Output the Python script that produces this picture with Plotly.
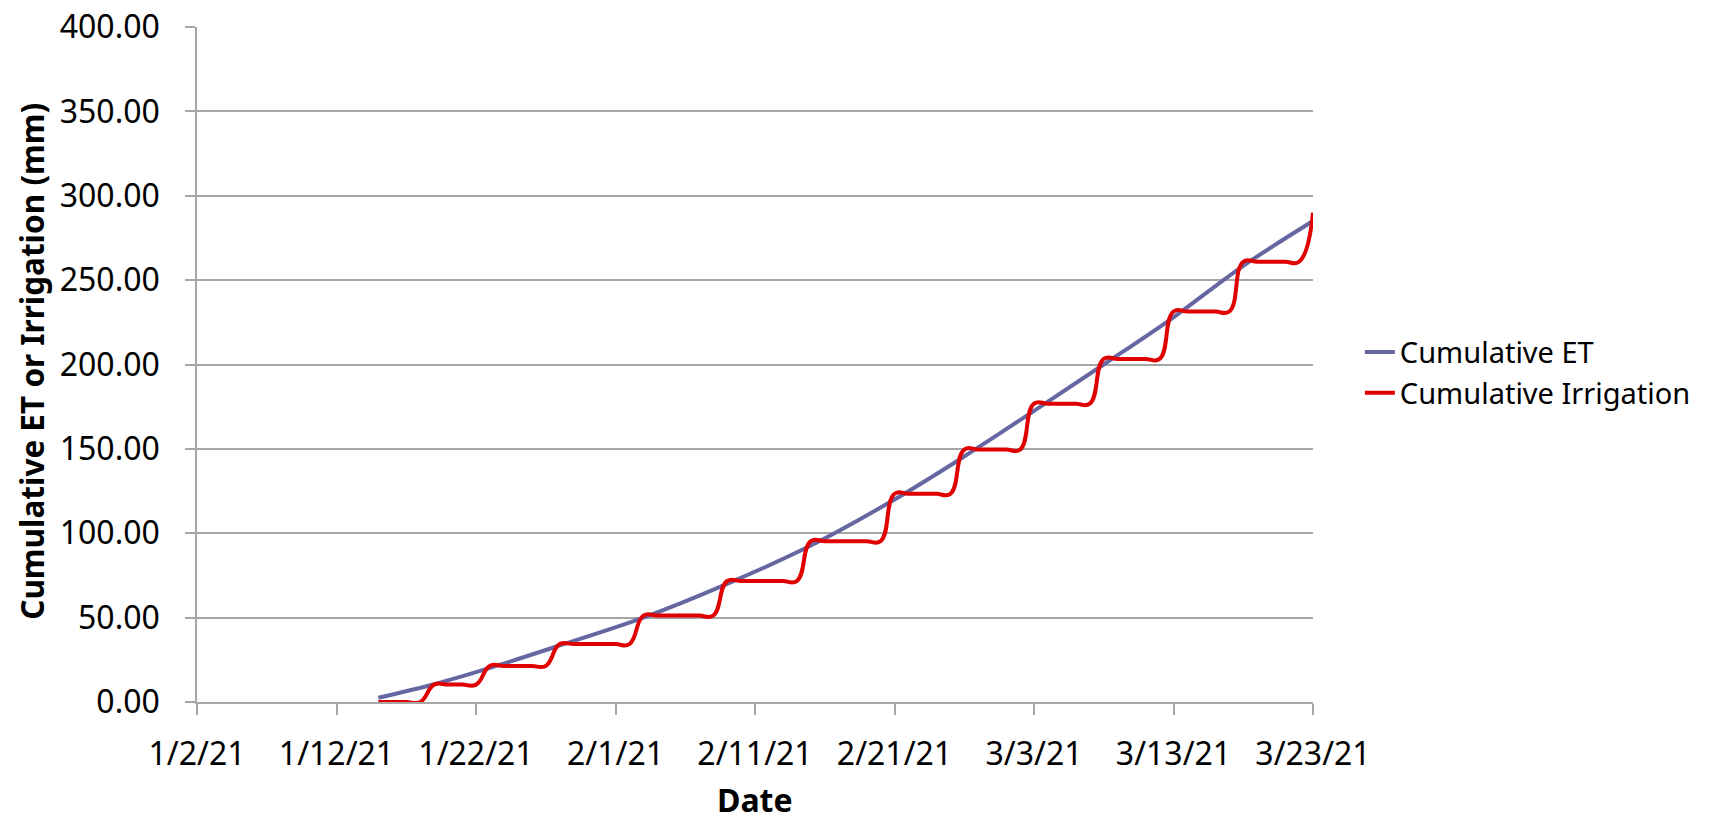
import plotly.graph_objects as go
import pandas as pd

# ---- data ----
et_dates = ["2021-01-15", "2021-01-19", "2021-01-23", "2021-01-28", "2021-02-03",
            "2021-02-09", "2021-02-15", "2021-02-21", "2021-02-26", "2021-03-03",
            "2021-03-08", "2021-03-13", "2021-03-18", "2021-03-23"]
et_mm = [2.5, 10.5, 20.2, 33.5, 50.0, 70.0, 92.7, 120.0, 145.5, 172.5,
         200.0, 228.0, 258.5, 285.0]

irr_dates = pd.date_range("2021-01-15", "2021-03-23", freq="D")
irrigation_mm = [
    0.0, 0.0, 0.0, 0.0,
    10.3, 10.3, 10.3, 10.3,
    21.4, 21.4, 21.4, 21.4, 21.4,
    34.3, 34.3, 34.3, 34.3, 34.3, 34.3,
    51.2, 51.2, 51.2, 51.2, 51.2, 51.2,
    71.7, 71.7, 71.7, 71.7, 71.7, 71.7,
    95.3, 95.3, 95.3, 95.3, 95.3, 95.3,
    123.4, 123.4, 123.4, 123.4, 123.4,
    149.6, 149.6, 149.6, 149.6, 149.6,
    176.8, 176.8, 176.8, 176.8, 176.8,
    203.3, 203.3, 203.3, 203.3, 203.3,
    231.4, 231.4, 231.4, 231.4, 231.4,
    260.9, 260.9, 260.9, 260.9, 260.9,
    290.0,
]

FONT = "Noto Sans"
GRID = "#A6A6A6"

fig = go.Figure()
fig.add_trace(go.Scatter(
    x=et_dates, y=et_mm, mode="lines", name="Cumulative ET",
    line=dict(color="#6666A3", width=4, shape="spline", smoothing=1),
))
fig.add_trace(go.Scatter(
    x=irr_dates, y=irrigation_mm, mode="lines", name="Cumulative Irrigation",
    line=dict(color="#E00000", width=4, shape="spline", smoothing=1.3),
))

# page body adds an 8px margin, so the figure is 16px smaller and shifted
fig.update_layout(
    width=1693, height=806,
    margin=dict(l=189, r=388, t=19, b=112, autoexpand=False),
    paper_bgcolor="white", plot_bgcolor="white",
    font=dict(family=FONT, size=32, color="black"),
    showlegend=True,
    legend=dict(x=1.042, xanchor="left", y=0.488, yanchor="middle",
                font=dict(family=FONT, size=29, color="black"),
                bgcolor="rgba(0,0,0,0)", tracegroupgap=0),
    xaxis=dict(
        type="date",
        range=["2021-01-02", "2021-03-23"],
        tick0="2021-01-02", dtick=10 * 86400000,
        tickformat="%-m/%-d/%y",
        showgrid=False, zeroline=False,
        showline=True, linecolor=GRID, linewidth=1.5,
        ticks="outside", ticklen=11, tickcolor=GRID, tickwidth=1.5,
        ticklabelstandoff=12, ticklabeloverflow="allow",
        tickfont=dict(family=FONT, size=32),
    ),
    yaxis=dict(
        range=[0, 400.01], dtick=50, tick0=0, tickformat=".2f",
        showgrid=True, gridcolor=GRID, gridwidth=1.5,
        zeroline=False,
        showline=True, linecolor=GRID, linewidth=1.5,
        ticks="outside", ticklen=10, tickcolor=GRID, tickwidth=1.5,
        ticklabelstandoff=19, ticklabeloverflow="allow",
        tickfont=dict(family=FONT, size=32),
    ),
    annotations=[
        dict(text="<b>Cumulative ET or Irrigation (mm)</b>", textangle=-90,
             xref="paper", yref="paper", x=-0.149, y=0.505,
             xanchor="center", yanchor="middle", showarrow=False,
             font=dict(family=FONT, size=31.5, color="black")),
        dict(text="<b>Date</b>",
             xref="paper", yref="paper", x=0.5, y=-0.145,
             xanchor="center", yanchor="middle", showarrow=False,
             font=dict(family=FONT, size=32, color="black")),
    ],
)

fig.write_html("out.html")
